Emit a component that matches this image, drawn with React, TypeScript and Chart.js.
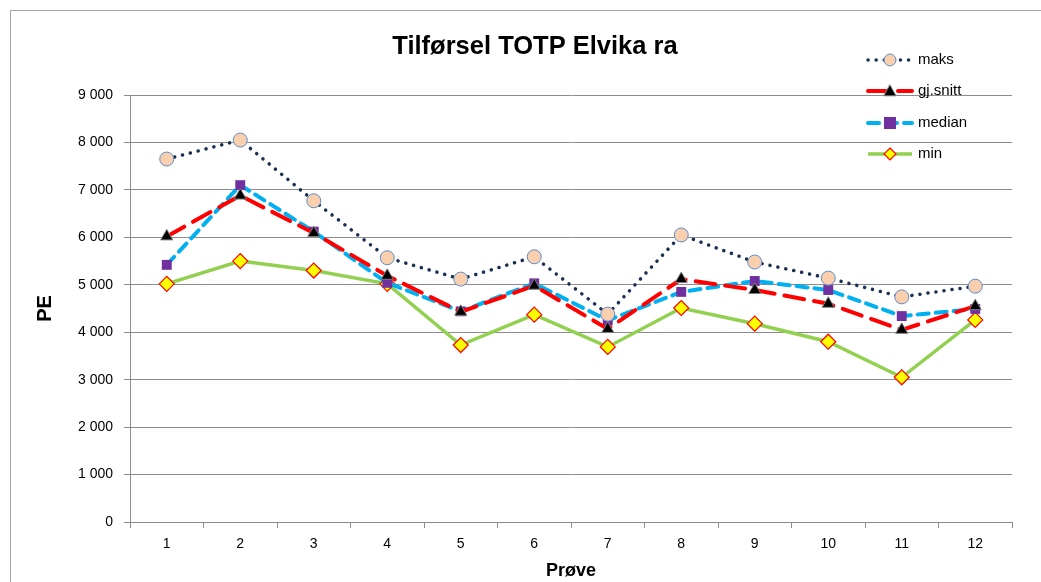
import React, { useEffect, useRef } from "react";
import { Chart, registerables } from "chart.js";

Chart.register(...registerables);

const categories = ["1", "2", "3", "4", "5", "6", "7", "8", "9", "10", "11", "12"];
const maks = [7650, 8050, 6770, 5570, 5120, 5590, 4380, 6050, 5480, 5140, 4745, 4970];
const gjSnitt = [6020, 6880, 6090, 5190, 4430, 4980, 4070, 5120, 4890, 4600, 4050, 4550];
const median = [5420, 7100, 6120, 5040, 4440, 5030, 4250, 4850, 5080, 4890, 4340, 4490];
const minVals = [5020, 5500, 5300, 5020, 3730, 4370, 3690, 4510, 4180, 3800, 3050, 4260];
const yTicks = [0, 1000, 2000, 3000, 4000, 5000, 6000, 7000, 8000, 9000];
const titleText = "Tilførsel TOTP Elvika ra";

const FONT = "'Liberation Sans', Arial, sans-serif";

const fmt = (v: number) => {
  const s = String(Math.round(v));
  return s.replace(/\B(?=(\d{3})+(?!\d))/g, " ");
};

const legendPlugin = {
  id: "customLegend",
  afterDraw(chart: any) {
    const ctx = chart.ctx;
    const items = chart.data.datasets;
    const x0 = 868;
    const x1 = 912;
    const ys = [60, 91, 123, 154];
    ctx.save();
    // title
    ctx.fillStyle = "#000";
    ctx.font = "bold 25.5px " + FONT;
    ctx.textAlign = "center";
    ctx.textBaseline = "middle";
    ctx.fillText(titleText, 535, 47);
    items.forEach((ds: any, i: number) => {
      const y = ys[i];
      ctx.beginPath();
      ctx.setLineDash(ds.borderDash || []);
      ctx.lineCap = ds.borderCapStyle || "butt";
      ctx.strokeStyle = ds.borderColor;
      ctx.lineWidth = ds.borderWidth;
      ctx.moveTo(x0, y);
      ctx.lineTo(x1, y);
      ctx.stroke();
      ctx.setLineDash([]);
      const cx = (x0 + x1) / 2;
      ctx.fillStyle = ds.pointBackgroundColor;
      ctx.strokeStyle = ds.pointBorderColor;
      ctx.lineWidth = ds.pointBorderWidth;
      const r = 6;
      ctx.beginPath();
      if (ds.pointStyle === "circle") {
        ctx.arc(cx, y, r, 0, Math.PI * 2);
      } else if (ds.pointStyle === "triangle") {
        ctx.moveTo(cx, y - r);
        ctx.lineTo(cx + r, y + r * 0.8);
        ctx.lineTo(cx - r, y + r * 0.8);
        ctx.closePath();
      } else if (ds.pointStyle === "rect") {
        ctx.rect(cx - r, y - r, 2 * r, 2 * r);
      } else {
        ctx.moveTo(cx, y - r);
        ctx.lineTo(cx + r, y);
        ctx.lineTo(cx, y + r);
        ctx.lineTo(cx - r, y);
        ctx.closePath();
      }
      ctx.fill();
      if (ds.pointBorderWidth > 0) ctx.stroke();
      ctx.fillStyle = "#000";
      ctx.font = "15px " + FONT;
      ctx.textBaseline = "middle";
      ctx.textAlign = "left";
      ctx.fillText(ds.label, 918, y);
    });
    ctx.restore();
  },
};

export default function App() {
  const ref = useRef<HTMLCanvasElement | null>(null);
  useEffect(() => {
    if (!ref.current) return;
    const chart = new Chart(ref.current, {
      type: "line",
      data: {
        labels: categories,
        datasets: [
          {
            label: "maks",
            data: maks,
            borderColor: "#1B2F55",
            borderWidth: 3.5,
            borderDash: [0.1, 8],
            borderCapStyle: "round",
            pointStyle: "circle",
            pointRadius: 7,
            pointBackgroundColor: "#FACFAE",
            pointBorderColor: "#5B8CD0",
            pointBorderWidth: 1,
            tension: 0,
            fill: false,
          },
          {
            label: "gj.snitt",
            data: gjSnitt,
            borderColor: "#FF0000",
            borderWidth: 4,
            borderDash: [20, 10],
            borderCapStyle: "round",
            pointStyle: "triangle",
            pointRadius: 7,
            pointBackgroundColor: "#000000",
            pointBorderColor: "#7F7F7F",
            pointBorderWidth: 1,
            tension: 0,
            fill: false,
          },
          {
            label: "median",
            data: median,
            borderColor: "#00B0F0",
            borderWidth: 4,
            borderDash: [11, 7],
            borderCapStyle: "round",
            pointStyle: "rect",
            pointRadius: 7,
            pointBackgroundColor: "#7030A0",
            pointBorderColor: "#7030A0",
            pointBorderWidth: 0,
            tension: 0,
            fill: false,
          },
          {
            label: "min",
            data: minVals,
            borderColor: "#92D050",
            borderWidth: 3.5,
            borderDash: [],
            pointStyle: "rectRot",
            pointRadius: 7.5,
            pointBackgroundColor: "#FFFF00",
            pointBorderColor: "#FF0000",
            pointBorderWidth: 1.2,
            tension: 0,
            fill: false,
          },
        ],
      },
      options: {
        animation: false,
        responsive: false,
        maintainAspectRatio: false,
        layout: { padding: { left: 0, right: 29, top: 95, bottom: 0 } },
        plugins: {
          legend: { display: false },
          tooltip: { enabled: false },
          title: { display: false },
        },
        scales: {
          x: {
            type: "category",
            offset: true,
            grid: {
              offset: true,
              drawOnChartArea: false,
              drawTicks: true,
              tickLength: 6,
              color: "#8C8C8C",
            },
            border: { display: true, color: "#8C8C8C", width: 1 },
            ticks: {
              color: "#000",
              font: { family: FONT, size: 14 },
              padding: 8,
              maxRotation: 0,
            },
            title: {
              display: true,
              text: "Prøve",
              color: "#000",
              font: { family: FONT, size: 18, weight: "bold", lineHeight: 1.2 },
              padding: { top: 0, bottom: 0 },
            },
            afterFit(scale: any) {
              scale.height = 60;
            },
          },
          y: {
            min: 0,
            max: 9000,
            afterBuildTicks(scale: any) {
              scale.ticks = yTicks.map((v) => ({ value: v }));
            },
            grid: {
              color: "#8C8C8C",
              lineWidth: 1,
              drawTicks: true,
              tickLength: 6,
            },
            border: { display: true, color: "#8C8C8C", width: 1 },
            ticks: {
              color: "#000",
              font: { family: FONT, size: 14 },
              padding: 11,
              callback: (v: any) => fmt(Number(v)),
            },
            title: {
              display: true,
              text: "PE",
              color: "#000",
              font: { family: FONT, size: 20, weight: "bold", lineHeight: 1.2 },
              padding: { top: 33, bottom: 0 },
            },
            afterFit(scale: any) {
              scale.width = 130;
            },
          },
        },
      },
      plugins: [legendPlugin],
    } as any);
    return () => chart.destroy();
  }, []);

  return (
    <div style={{ position: "absolute", left: 0, top: 0, width: 1041, height: 582, overflow: "hidden", background: "#fff" }}>
      <div
        style={{
          position: "absolute",
          left: 10,
          top: 10,
          width: 1200,
          height: 800,
          border: "1px solid #A6A6A6",
          boxSizing: "border-box",
        }}
      />
      <canvas ref={ref} width={1041} height={582} style={{ position: "absolute", left: 0, top: 0, width: 1041, height: 582 }} />
    </div>
  );
}
